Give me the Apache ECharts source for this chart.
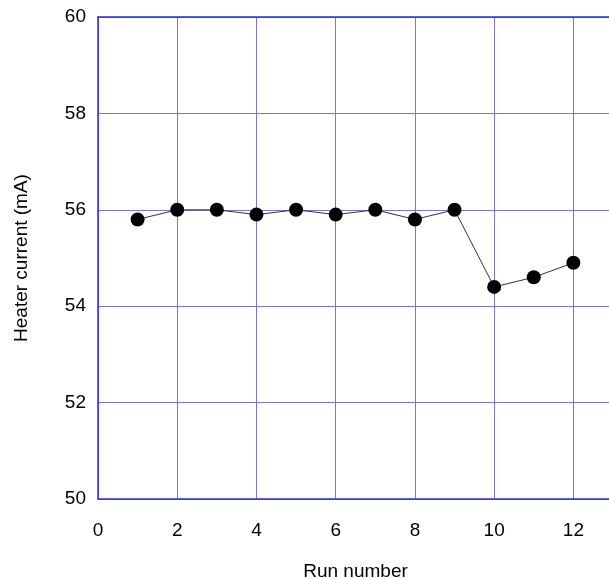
<!DOCTYPE html>
<html><head><meta charset="utf-8">
<script src="https://cdn.jsdelivr.net/npm/echarts@6/dist/echarts.min.js"></script>
<style>html,body{margin:0;padding:0;background:#fff}#c{width:609px;height:579px}</style>
</head><body><div id="c"></div>
<script>
const runs = [1,2,3,4,5,6,7,8,9,10,11,12];
const current = [55.8,56.0,56.0,55.9,56.0,55.9,56.0,55.8,56.0,54.4,54.6,54.9];
const xTicks = [0,2,4,6,8,10,12];
const yTicks = [50,52,54,56,58,60];
const chart = echarts.init(document.getElementById('c'), null, {renderer:'canvas'});
const font = 'Liberation Sans, Arial, sans-serif';
const axisLineStyle = {color:'#3030cc',width:1.5};
const gridLineStyle = {color:'#7f74c8',width:1};
chart.setOption({
  animation:false,
  backgroundColor:'#fff',
  grid:{left:98,top:17,right:-4,bottom:80,containLabel:false,outerBoundsMode:'none'},
  xAxis:[{type:'value',min:0,max:13,interval:2,
    name:'Run number',nameLocation:'middle',nameGap:63,
    nameTextStyle:{fontFamily:font,fontSize:19,color:'#000'},
    axisLine:{show:true,lineStyle:axisLineStyle},
    axisTick:{show:false},
    axisLabel:{fontFamily:font,fontSize:19,color:'#000',margin:22,
      formatter:v=>xTicks.includes(v)?String(v):''},
    splitLine:{show:true,lineStyle:gridLineStyle},
  },{type:'value',min:0,max:13,interval:2,position:'top',
    axisLine:{show:true,onZero:false,lineStyle:axisLineStyle},
    axisTick:{show:false},axisLabel:{show:false},splitLine:{show:false}
  }],
  yAxis:{type:'value',min:50,max:60,interval:2,
    name:'Heater current (mA)',nameLocation:'middle',nameGap:67,nameRotate:90,
    nameTextStyle:{fontFamily:font,fontSize:19,color:'#000'},
    axisLine:{show:true,lineStyle:axisLineStyle},
    axisTick:{show:false},
    axisLabel:{fontFamily:font,fontSize:19,color:'#000',margin:12,
      formatter:v=>yTicks.includes(v)?String(v):''},
    splitLine:{show:true,lineStyle:gridLineStyle},
  },
  series:[{type:'line',xAxisIndex:0,data:runs.map((r,i)=>[r,current[i]]),
    symbol:'circle',symbolSize:14,
    itemStyle:{color:'#000'},
    lineStyle:{color:'#333',width:1},
  }]
});
</script></body></html>
